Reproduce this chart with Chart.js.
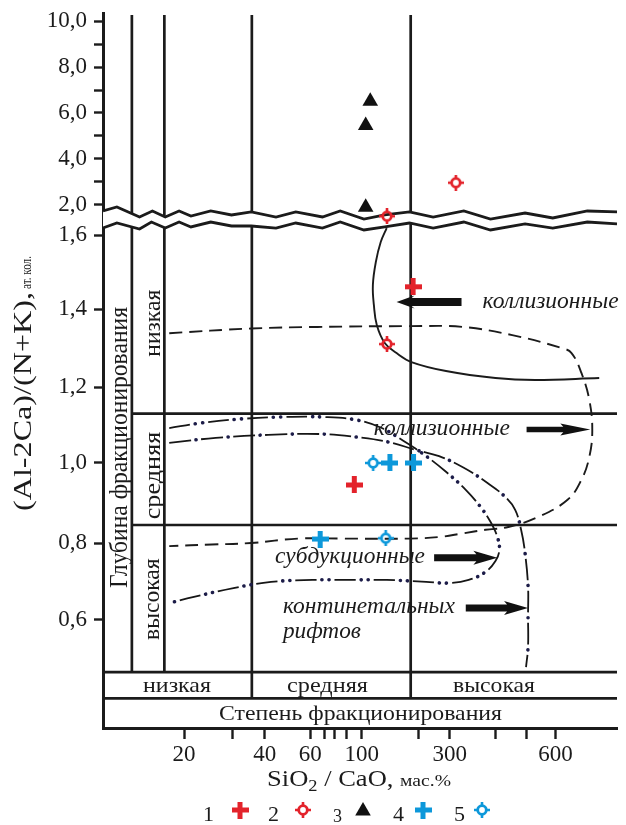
<!DOCTYPE html>
<html>
<head>
<meta charset="utf-8">
<script src="https://cdn.jsdelivr.net/npm/chart.js@4.4.1/dist/chart.umd.min.js"></script>
<style>
html,body{margin:0;padding:0;background:#fff;}
canvas{display:block;}
</style>
</head>
<body>
<canvas id="chart" width="626" height="825"></canvas>
<script>
// ================= DATA =================
// X axis: SiO2/CaO (hand-drawn, quasi-log); Y axis: (Al-2Ca)/(N+K) with a scale break
const xTickValues = [20, 30, 40, 60, 70, 80, 90, 100, 200, 300, 400, 500, 600];
const xTickLabels = ['20', '', '40', '60', '', '', '', '100', '', '300', '', '', '600'];
const yTickValues = [0.6, 0.8, 1.0, 1.2, 1.4, 1.6, 2, 3, 4, 5, 6, 7, 8, 9, 10];
const yTickLabels = ['0,6', '0,8', '1,0', '1,2', '1,4', '1,6', '2,0', '', '4,0', '', '6,0', '', '8,0', '', '10,0'];

// sample series (legend 1..5)
const series1 = [{x: 187, y: 1.46}, {x: 95, y: 0.945}];
const series2 = [{x: 312, y: 2.97}, {x: 136, y: 1.85}, {x: 136, y: 1.31}];
const series3 = [{x: 111, y: 6.51}, {x: 105, y: 5.46}, {x: 105, y: 1.97}];
const series4 = [{x: 141, y: 1.0}, {x: 188, y: 1.0}, {x: 67, y: 0.81}];
const series5 = [{x: 115, y: 1.0}, {x: 134, y: 0.812}];
const legendLabels = ['1', '2', '3', '4', '5'];

// field boundaries
const collisionSolid = [
  {x: 135.6, y: 1.693}, {x: 126.1, y: 1.581}, {x: 118.8, y: 1.527}, {x: 114.6, y: 1.465},
  {x: 116, y: 1.411}, {x: 120.2, y: 1.359}, {x: 132.4, y: 1.313}, {x: 152.9, y: 1.287},
  {x: 183.2, y: 1.264}, {x: 286, y: 1.241}, {x: 401, y: 1.223}, {x: 527.7, y: 1.218}, {x: 862.9, y: 1.223}
];
const collisionDashed = [
  {x: 17.62, y: 1.338}, {x: 35.42, y: 1.35}, {x: 65, y: 1.354}, {x: 178.8, y: 1.356},
  {x: 326, y: 1.354}, {x: 452, y: 1.333}, {x: 631.8, y: 1.3}, {x: 685.8, y: 1.287},
  {x: 744.4, y: 1.236}, {x: 794.9, y: 1.166}, {x: 814.6, y: 1.087}, {x: 794.9, y: 1.016},
  {x: 744.4, y: 0.958}, {x: 663.6, y: 0.908}, {x: 537.6, y: 0.865}, {x: 439.4, y: 0.84},
  {x: 376.5, y: 0.833}, {x: 326, y: 0.824}, {x: 261.3, y: 0.815}, {x: 178.8, y: 0.811},
  {x: 87.9, y: 0.811}, {x: 53.64, y: 0.811}, {x: 35.42, y: 0.8}, {x: 25.18, y: 0.796}, {x: 17.62, y: 0.792}
];
const subductionCurve = [
  {x: 17.62, y: 1.092}, {x: 22.81, y: 1.105}, {x: 32.41, y: 1.116}, {x: 45.78, y: 1.121},
  {x: 70.25, y: 1.121}, {x: 96.84, y: 1.113}, {x: 127.7, y: 1.092}, {x: 172.5, y: 1.053},
  {x: 220.9, y: 1.018}, {x: 286, y: 0.978}, {x: 332.2, y: 0.933}, {x: 364.9, y: 0.89},
  {x: 388.4, y: 0.853}, {x: 406.5, y: 0.815}, {x: 412.3, y: 0.782}, {x: 401, y: 0.753},
  {x: 376.5, y: 0.725}, {x: 338.5, y: 0.704}, {x: 297.3, y: 0.696}, {x: 220.9, y: 0.699},
  {x: 135.6, y: 0.704}, {x: 90.4, y: 0.704}, {x: 61.54, y: 0.704}, {x: 42.29, y: 0.699},
  {x: 30.19, y: 0.683}, {x: 21.71, y: 0.66}, {x: 17.62, y: 0.644}
];
const riftCurve = [
  {x: 17.62, y: 1.053}, {x: 26.02, y: 1.066}, {x: 41.18, y: 1.074}, {x: 70.25, y: 1.076},
  {x: 96.84, y: 1.068}, {x: 138.9, y: 1.055}, {x: 194.6, y: 1.034}, {x: 261.3, y: 1.018},
  {x: 328.1, y: 0.988}, {x: 381.2, y: 0.95}, {x: 430.2, y: 0.915}, {x: 461.6, y: 0.883},
  {x: 481.6, y: 0.833}, {x: 495.4, y: 0.774}, {x: 505.3, y: 0.688}, {x: 505.3, y: 0.61},
  {x: 505.3, y: 0.53}, {x: 498.9, y: 0.478}
];
// axis break (two zig-zag lines)
const breakUpper = [
  {x: 10, y: 1.92}, {x: 11.26, y: 1.973}, {x: 13.67, y: 1.84}, {x: 15.26, y: 1.92}, {x: 17.03, y: 1.84},
  {x: 19.17, y: 1.92}, {x: 21.18, y: 1.853}, {x: 24.97, y: 1.92}, {x: 29.68, y: 1.867}, {x: 35.42, y: 1.907},
  {x: 44.19, y: 1.84}, {x: 52.71, y: 1.907}, {x: 68.7, y: 1.84}, {x: 84.4, y: 1.92}, {x: 102.8, y: 1.813},
  {x: 132.4, y: 1.867}, {x: 178.8, y: 1.907}, {x: 241.8, y: 1.84}, {x: 328.1, y: 1.92}, {x: 388.4, y: 1.813},
  {x: 495.4, y: 1.893}, {x: 590, y: 1.827}, {x: 782, y: 1.92}, {x: 1000, y: 1.907}
];
const breakLower = [
  {x: 10, y: 1.693}, {x: 11.26, y: 1.76}, {x: 13.67, y: 1.68}, {x: 15.13, y: 1.773}, {x: 17.03, y: 1.693},
  {x: 19.17, y: 1.773}, {x: 21.18, y: 1.707}, {x: 24.97, y: 1.773}, {x: 29.68, y: 1.72}, {x: 35.42, y: 1.72},
  {x: 44.19, y: 1.693}, {x: 52.71, y: 1.76}, {x: 68.7, y: 1.693}, {x: 84.4, y: 1.773}, {x: 102.8, y: 1.667},
  {x: 132.4, y: 1.707}, {x: 178.8, y: 1.76}, {x: 241.8, y: 1.693}, {x: 328.1, y: 1.773}, {x: 388.4, y: 1.667},
  {x: 495.4, y: 1.747}, {x: 590, y: 1.693}, {x: 782, y: 1.773}, {x: 1000, y: 1.747}
];

// diagram frame (data units)
const X_MIN = 10, X_MAX = 1000, Y_MIN = 0.32, Y_MAX = 10.348;
const frameTop = 10.26;
const depthDividers = [12.8, 16.9];     // vertical, down to bottomRows[0]
const degreeDividers = [35.6, 181.6];   // vertical, down to bottomRows[1]
const depthLevels = [1.13, 0.845];      // horizontal, from depthDividers[0]
const bottomRows = [0.465, 0.397];      // horizontal, full width

// arrows and field labels (data units)
const arrows = [
  {from: [323.4, 1.419], to: [152.9, 1.419]},
  {from: [500.7, 1.088], to: [801.4, 1.088]},
  {from: [244.9, 0.762], to: [406.5, 0.762]},
  {from: [332.2, 0.631], to: [505.3, 0.631]}
];
const fieldLabels = [
  {text: 'коллизионные', at: [369.5, 1.403]},
  {text: 'коллизионные', at: [116, 1.074]},
  {text: 'субдукционные', at: [43.8, 0.748]},
  {text: 'континетальных', at: [47.0, 0.618]},
  {text: 'рифтов', at: [47.0, 0.553]}
];

// ================= STYLE =================
const INK = '#1b1b1b';
const DOTINK = '#1c1c48';
const RED = '#e3232b';
const BLUE = '#0d98da';
const SERIF = '"Liberation Serif", "Times New Roman", serif';
const arrowStyles = [
  {body: 8, head: 18, half: 6.5},
  {body: 5.5, head: 30, half: 6},
  {body: 7, head: 24, half: 7},
  {body: 7, head: 24, half: 7}
];
const fieldLabelWidths = [136, 136, 150, 172, 78];

// scale geometry (value -> decimal position along axis)
const SCALE_KNOTS = {
  x: {log: true, knots: [[10, 0], [20, 0.15769], [30, 0.2525], [40, 0.31481], [60, 0.40327], [70, 0.43019],
    [80, 0.45135], [90, 0.47365], [100, 0.50327], [200, 0.61404], [300, 0.67442], [400, 0.76288],
    [500, 0.82365], [600, 0.88019], [1000, 1]]},
  y: {log: false, knots: [[0.32, 0], [0.6, 0.15105], [0.8, 0.25874], [1.0, 0.37063], [1.2, 0.47692],
    [1.4, 0.58601], [1.6, 0.68951], [2.0, 0.73147], [10, 0.98881], [10.348, 1]]}
};
const SCALE_TICKS = {x: xTickValues, y: yTickValues};

class PiecewiseScale extends Chart.LinearScale {
  static id = 'piecewise';
  buildTicks() {
    return (SCALE_TICKS[this.id] || []).map(v => ({value: v}));
  }
  _tf(v) { return SCALE_KNOTS[this.id].log ? Math.log10(v) : v; }
  getPixelForValue(value) {
    if (value === null || value === undefined || isNaN(value)) return NaN;
    const k = SCALE_KNOTS[this.id].knots;
    const t = this._tf(value);
    let i = 0;
    while (i < k.length - 2 && t > this._tf(k[i + 1][0])) i++;
    const t0 = this._tf(k[i][0]), t1 = this._tf(k[i + 1][0]);
    const d = k[i][1] + (t - t0) / (t1 - t0) * (k[i + 1][1] - k[i][1]);
    return this.getPixelForDecimal(d);
  }
  getValueForPixel(pixel) {
    const k = SCALE_KNOTS[this.id].knots;
    const d = this.getDecimalForPixel(pixel);
    let i = 0;
    while (i < k.length - 2 && d > k[i + 1][1]) i++;
    const t0 = this._tf(k[i][0]), t1 = this._tf(k[i + 1][0]);
    const t = t0 + (d - k[i][1]) / (k[i + 1][1] - k[i][1]) * (t1 - t0);
    return SCALE_KNOTS[this.id].log ? Math.pow(10, t) : t;
  }
}
Chart.register(PiecewiseScale);

// ================= MARKERS =================
function makeCross(color) {
  const c = document.createElement('canvas'); c.width = 17; c.height = 17;
  const g = c.getContext('2d'); g.fillStyle = color;
  g.fillRect(0, 6, 17, 5); g.fillRect(6, 0, 5, 17);
  return c;
}
function makeTarget(color) {
  const c = document.createElement('canvas'); c.width = 16; c.height = 16;
  const g = c.getContext('2d'); g.strokeStyle = color;
  g.lineWidth = 2.8; g.beginPath(); g.arc(8, 8, 4.3, 0, Math.PI * 2); g.stroke();
  g.lineWidth = 2.6; g.beginPath();
  g.moveTo(8, 0); g.lineTo(8, 3.4); g.moveTo(8, 12.6); g.lineTo(8, 16);
  g.moveTo(0, 8); g.lineTo(3.4, 8); g.moveTo(12.6, 8); g.lineTo(16, 8);
  g.stroke();
  return c;
}
const mRedCross = makeCross(RED), mBlueCross = makeCross(BLUE);
const mRedTarget = makeTarget(RED), mBlueTarget = makeTarget(BLUE);

// ================= HELPERS =================
function fitText(ctx, str, x, y, font, w, rot, align) {
  ctx.save();
  ctx.font = font;
  ctx.fillStyle = INK;
  ctx.textBaseline = 'alphabetic';
  ctx.textAlign = 'left';
  const m = ctx.measureText(str).width;
  const s = w ? w / m : 1;
  ctx.translate(x, y);
  if (rot) ctx.rotate(rot);
  ctx.scale(s, 1);
  let dx = 0;
  if (align === 'center') dx = -m / 2;
  ctx.fillText(str, dx, 0);
  ctx.restore();
}
function drawArrow(ctx, x0, y0, x1, st) {
  const dir = Math.sign(x1 - x0);
  const hx = x1 - dir * st.head;
  ctx.beginPath();
  ctx.moveTo(x0, y0 - st.body / 2);
  ctx.lineTo(hx + dir * 3, y0 - st.body / 2);
  ctx.lineTo(hx, y0 - st.half);
  ctx.lineTo(x1, y0);
  ctx.lineTo(hx, y0 + st.half);
  ctx.lineTo(hx + dir * 3, y0 + st.body / 2);
  ctx.lineTo(x0, y0 + st.body / 2);
  ctx.closePath();
  ctx.fill();
}

// ================= PLUGINS =================
const framePlugin = {
  id: 'diagramFrame',
  beforeDatasetsDraw(chart) {
    const {ctx, scales: {x, y}} = chart;
    ctx.save();
    ctx.strokeStyle = INK; ctx.lineWidth = 2.7; ctx.lineCap = 'butt';
    const seg = (ax, ay, bx, by) => {
      ctx.beginPath();
      ctx.moveTo(x.getPixelForValue(ax), y.getPixelForValue(ay));
      ctx.lineTo(x.getPixelForValue(bx), y.getPixelForValue(by));
      ctx.stroke();
    };
    depthDividers.forEach(v => seg(v, frameTop, v, bottomRows[0]));
    degreeDividers.forEach(v => seg(v, frameTop, v, bottomRows[1]));
    depthLevels.forEach(v => seg(depthDividers[0], v, X_MAX, v));
    bottomRows.forEach(v => seg(X_MIN, v, X_MAX, v));
    ctx.restore();
  },
  afterDatasetsDraw(chart) {
    const {ctx, scales: {x, y}} = chart;
    ctx.save();
    ctx.fillStyle = '#111';
    arrows.forEach((a, i) => {
      drawArrow(ctx, x.getPixelForValue(a.from[0]), y.getPixelForValue(a.from[1]),
        x.getPixelForValue(a.to[0]), arrowStyles[i]);
    });
    fieldLabels.forEach((l, i) => {
      fitText(ctx, l.text, x.getPixelForValue(l.at[0]), y.getPixelForValue(l.at[1]),
        'italic 23px ' + SERIF, fieldLabelWidths[i], 0);
    });
    // frame captions
    const px = v => x.getPixelForValue(v), py = v => y.getPixelForValue(v);
    const colMid = (px(X_MIN) + px(depthDividers[0])) / 2;
    fitText(ctx, 'Глубина фракционирования', colMid + 10, 588, '25px ' + SERIF, 281, -Math.PI / 2);
    const col2 = (px(depthDividers[0]) + px(depthDividers[1])) / 2;
    fitText(ctx, 'низкая', col2 + 11.5, 356.7, '23px ' + SERIF, 67, -Math.PI / 2);
    fitText(ctx, 'средняя', col2 + 11.5, 519.3, '23px ' + SERIF, 87.6, -Math.PI / 2);
    fitText(ctx, 'высокая', col2 + 11, 640, '23px ' + SERIF, 81.7, -Math.PI / 2);
    const rowBase = py(bottomRows[1]) - 6.5;
    fitText(ctx, 'низкая', 143, rowBase, '22px ' + SERIF, 68, 0);
    fitText(ctx, 'средняя', 287, rowBase, '22px ' + SERIF, 81, 0);
    fitText(ctx, 'высокая', 453, rowBase, '22px ' + SERIF, 82, 0);
    fitText(ctx, 'Степень фракционирования', 219, 720, '21px ' + SERIF, 283, 0);
    ctx.restore();
  },
  afterDraw(chart) {
    const {ctx} = chart;
    ctx.save();
    // y axis title
    fitText(ctx, '(Al-2Ca)/(N+K),', 31, 511, '25px ' + SERIF, 219, -Math.PI / 2);
    fitText(ctx, 'ат. кол.', 31, 289, '14px ' + SERIF, 33, -Math.PI / 2);
    // x axis title: SiO2 / CaO, мас.%
    ctx.fillStyle = INK; ctx.textBaseline = 'alphabetic'; ctx.textAlign = 'left';
    const parts = [['SiO', 23, 0], ['2', 16, 5], [' / CaO, ', 23, 0], ['мас.%', 17, 0]];
    let total = 0;
    parts.forEach(p => { ctx.font = p[1] + 'px ' + SERIF; p.push(ctx.measureText(p[0]).width); total += p[3]; });
    const sx = 184 / total;
    ctx.save(); ctx.translate(267, 786); ctx.scale(sx, 1);
    let cx = 0;
    parts.forEach(p => { ctx.font = p[1] + 'px ' + SERIF; ctx.fillText(p[0], cx, p[2]); cx += p[3]; });
    ctx.restore();
    // legend
    const labX = [203, 268, 333, 393, 454];
    const mk = [[240, 810], [303, 810], [363, 811], [423, 810], [482, 810]];
    legendLabels.forEach((t, i) => {
      ctx.font = (i === 2 ? 18 : 22) + 'px ' + SERIF;
      ctx.fillStyle = INK;
      ctx.fillText(t, labX[i], i === 2 ? 822 : 821);
    });
    const imgs = [mRedCross, mRedTarget, null, mBlueCross, mBlueTarget];
    imgs.forEach((im, i) => {
      if (im) ctx.drawImage(im, mk[i][0] - im.width / 2, mk[i][1] - im.height / 2);
    });
    ctx.fillStyle = '#111';
    Chart.helpers.drawPoint(ctx, {pointStyle: 'triangle', radius: 9, borderWidth: 0, rotation: 0}, mk[2][0], mk[2][1]);
    ctx.restore();
  }
};

// ================= CHART =================
const lineBase = {type: 'line', pointRadius: 0, pointHoverRadius: 0, fill: false};
// dash-dot patterns: a dash layer plus a separate, heavier dot layer aligned on the same path
const DD_DASH = [21, 5.5, 0.1, 7, 0.1, 5.5];            // total 39.2, dots at 26.5 and 33.6
const DD_DOTS = [0.1, 7, 0.1, 32];                      // total 39.2
const DD_OFFSET = 39.2 - 26.5;
const SD_DASH = [22, 5, 0.1, 5];                        // total 32.1, dot at 27
const SD_DOTS = [0.1, 32];
const SD_OFFSET = 32.1 - 27;
new Chart(document.getElementById('chart'), {
  type: 'scatter',
  data: {
    datasets: [
      {label: '1', data: series1, pointStyle: mRedCross, pointRadius: 8},
      {label: '2', data: series2, pointStyle: mRedTarget, pointRadius: 8},
      {label: '3', data: series3, pointStyle: 'triangle', pointRadius: 9, backgroundColor: '#111', borderWidth: 0},
      {label: '4', data: series4, pointStyle: mBlueCross, pointRadius: 8},
      {label: '5', data: series5, pointStyle: mBlueTarget, pointRadius: 8},
      Object.assign({}, lineBase, {label: 'subduction dots', data: subductionCurve, borderColor: DOTINK, borderWidth: 3.6,
        borderDash: DD_DOTS, borderDashOffset: DD_OFFSET, borderCapStyle: 'round', tension: 0.4}),
      Object.assign({}, lineBase, {label: 'subduction', data: subductionCurve, borderColor: '#161616', borderWidth: 1.8,
        borderDash: DD_DASH, borderCapStyle: 'butt', tension: 0.4}),
      Object.assign({}, lineBase, {label: 'rift dots', data: riftCurve, borderColor: DOTINK, borderWidth: 3.6,
        borderDash: SD_DOTS, borderDashOffset: SD_OFFSET, borderCapStyle: 'round', tension: 0.4}),
      Object.assign({}, lineBase, {label: 'rift', data: riftCurve, borderColor: '#161616', borderWidth: 1.8,
        borderDash: SD_DASH, borderCapStyle: 'butt', tension: 0.4}),
      Object.assign({}, lineBase, {label: 'collision dashed', data: collisionDashed, borderColor: INK, borderWidth: 1.9,
        borderDash: [13, 7], tension: 0.4}),
      Object.assign({}, lineBase, {label: 'collision solid', data: collisionSolid, borderColor: INK, borderWidth: 1.9,
        tension: 0.4}),
      Object.assign({}, lineBase, {label: 'break upper', data: breakUpper, borderColor: INK, borderWidth: 2.8, tension: 0}),
      Object.assign({}, lineBase, {label: 'break lower', data: breakLower, borderColor: INK, borderWidth: 2.8, tension: 0}),
      Object.assign({}, lineBase, {label: 'break gap', data: breakUpper, borderWidth: 0, borderColor: 'rgba(0,0,0,0)',
        backgroundColor: '#ffffff', fill: 12, tension: 0})
    ]
  },
  options: {
    responsive: false,
    animation: false,
    events: [],
    devicePixelRatio: 1,
    layout: {padding: {top: 13, right: 3, left: 0, bottom: 0}},
    plugins: {legend: {display: false}, tooltip: {enabled: false}},
    scales: {
      x: {
        type: 'piecewise', position: 'bottom', min: X_MIN, max: X_MAX,
        grid: {display: true, drawOnChartArea: false, drawTicks: true, tickLength: 11, tickWidth: 2.4, tickColor: INK},
        border: {display: true, color: INK, width: 3},
        ticks: {autoSkip: false, maxRotation: 0, minRotation: 0, padding: 2, color: INK,
          font: {family: SERIF, size: 23}, callback: (v, i) => xTickLabels[i]},
        afterFit: s => { s.height = 97; s.paddingLeft = 0; s.paddingRight = 0; }
      },
      y: {
        type: 'piecewise', position: 'left', min: Y_MIN, max: Y_MAX,
        grid: {display: true, drawOnChartArea: false, drawTicks: true, tickLength: 9, tickWidth: 2.4, tickColor: INK},
        border: {display: true, color: INK, width: 3},
        ticks: {autoSkip: false, padding: 7, color: INK,
          font: {family: SERIF, size: 23}, callback: (v, i) => yTickLabels[i]},
        afterFit: s => { s.width = 103; s.paddingTop = 0; s.paddingBottom = 0; }
      }
    }
  },
  plugins: [framePlugin]
});
</script>
</body>
</html>
